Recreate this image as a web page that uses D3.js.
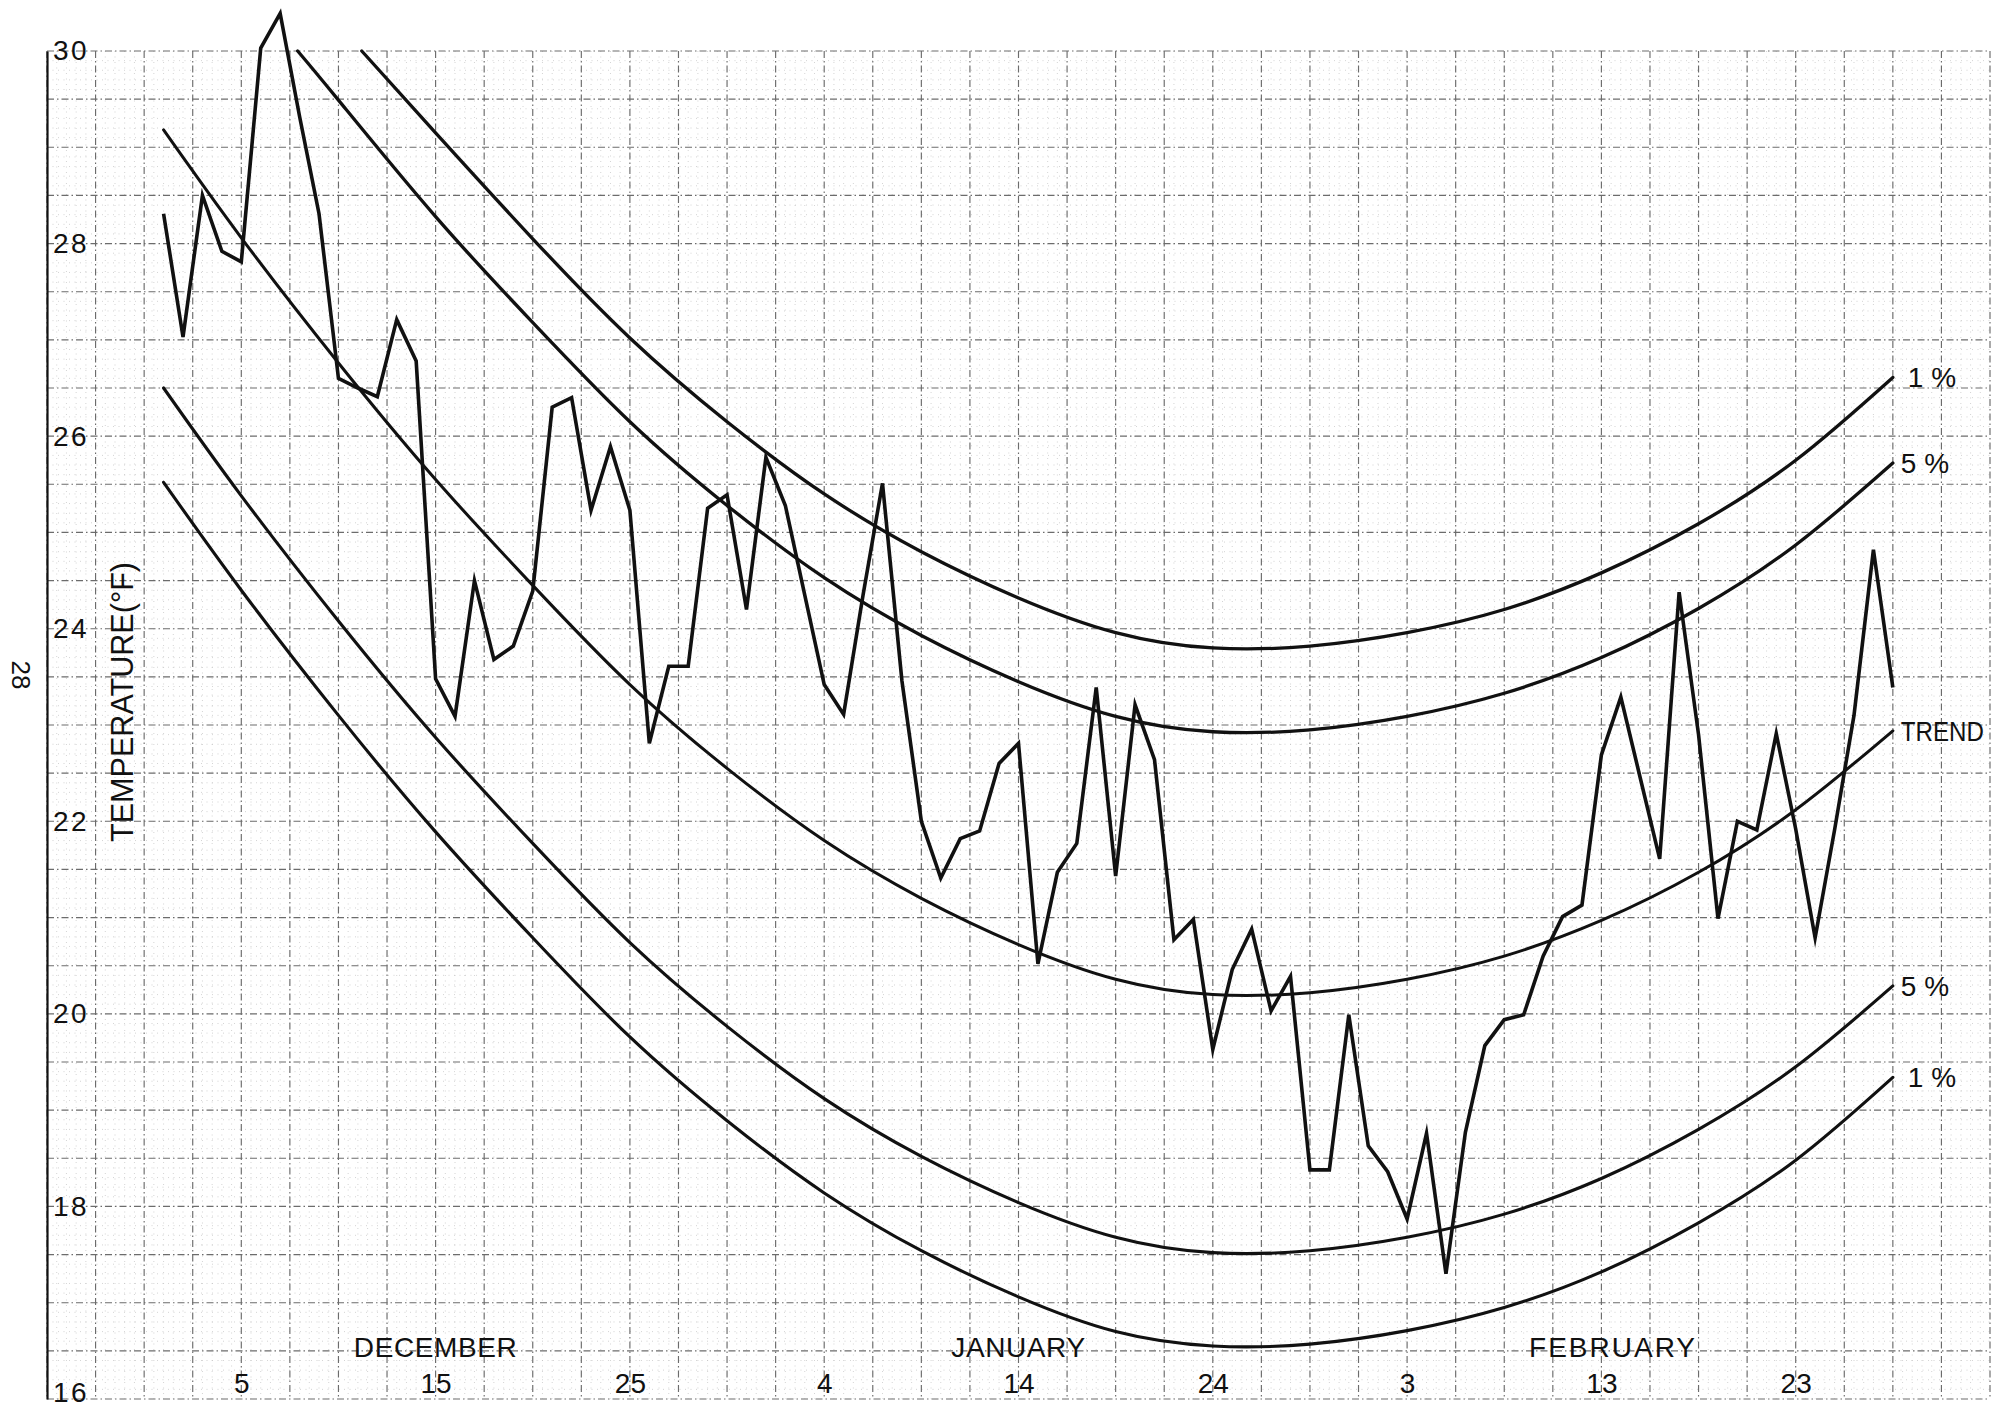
<!DOCTYPE html>
<html>
<head>
<meta charset="utf-8">
<script src="https://cdn.jsdelivr.net/npm/d3@7"></script>
<style>
  html, body { margin: 0; padding: 0; background: #fff; }
  svg { display: block; }
  text { font-family: "Liberation Sans", Arial, sans-serif; fill: #111; }
</style>
</head>
<body>
<svg id="chart" width="2007" height="1412"></svg>
<script>
// Daily mean temperature, 1 December to 28 February (°F)
const dailyTemps = [
  28.31, 27.03, 28.50, 27.92, 27.81, 30.03, 30.39, 29.32, 28.31, 26.60,
  26.50, 26.41, 27.21, 26.78, 23.48, 23.09, 24.50, 23.68, 23.82, 24.39,
  26.30, 26.40, 25.23, 25.89, 25.23, 22.81, 23.61, 23.61, 25.25, 25.39,
  24.20, 25.78, 25.28, 24.35, 23.42, 23.11, 24.35, 25.51, 23.46, 22.00,
  21.41, 21.82, 21.90, 22.60, 22.81, 20.52, 21.47, 21.77, 23.39, 21.43,
  23.21, 22.64, 20.77, 20.98, 19.63, 20.46, 20.88, 20.03, 20.39, 18.38,
  18.38, 19.99, 18.63, 18.36, 17.87, 18.76, 17.30, 18.77, 19.67, 19.94,
  19.99, 20.60, 21.01, 21.13, 22.69, 23.29, 22.45, 21.61, 24.38, 22.90,
  20.99, 22.00, 21.91, 22.91, 21.92, 20.79, 21.91, 23.10, 24.82, 23.39
];
// day numbers counted from 1 December
const dailyDays = dailyTemps.map((_, i) => i + 1);

// Seasonal trend and probability limits, sampled along the season
const curveDays = [1, 5, 10, 15, 20, 25, 30, 35, 40, 45, 50, 55, 60, 65, 70, 75, 80, 85, 90];
const trendTemps = [29.18, 28.06, 26.76, 25.55, 24.45, 23.42, 22.55, 21.80, 21.20, 20.72,
                    20.36, 20.20, 20.22, 20.36, 20.60, 20.97, 21.47, 22.12, 22.94];
const lower5Temps = [26.50, 25.38, 24.08, 22.87, 21.77, 20.74, 19.87, 19.12, 18.52, 18.04,
                     17.68, 17.52, 17.54, 17.68, 17.92, 18.29, 18.80, 19.45, 20.29];
const lower1Temps = [25.52, 24.40, 23.10, 21.89, 20.79, 19.76, 18.89, 18.14, 17.54, 17.06,
                     16.70, 16.55, 16.57, 16.71, 16.95, 17.32, 17.83, 18.48, 19.34];
// upper limits enter the sheet at its top edge
const upper5Days = [7.9, 10, 15, 20, 25, 30, 35, 40, 45, 50, 55, 60, 65, 70, 75, 80, 85, 90];
const upper5Temps = [30.00, 29.49, 28.28, 27.18, 26.15, 25.28, 24.53, 23.93, 23.45, 23.09,
                     22.93, 22.95, 23.09, 23.33, 23.70, 24.21, 24.87, 25.72];
const upper1Days = [11.2, 15, 20, 25, 30, 35, 40, 45, 50, 55, 60, 65, 70, 75, 80, 85, 90];
const upper1Temps = [30.00, 29.15, 28.05, 27.02, 26.15, 25.40, 24.80, 24.32, 23.96, 23.80,
                     23.82, 23.96, 24.20, 24.58, 25.09, 25.75, 26.61];

// Axis labelling
const tempTicks = [16, 18, 20, 22, 24, 26, 28, 30];
const dayTicks = [5, 15, 25, 35, 45, 55, 65, 75, 85];
const dayTickLabels = ["5", "15", "25", "4", "14", "24", "3", "13", "23"];
const monthNames = ["DECEMBER", "JANUARY", "FEBRUARY"];
const monthDays = [15, 45, 75.6];
const yTitle = "TEMPERATURE(°F)";
const pageNumber = "28";

const svg = d3.select("#chart");
const W = 2007, H = 1412;
svg.append("rect").attr("width", W).attr("height", H).attr("fill", "#fff");

const x = d3.scaleLinear().domain([-5, 95]).range([47, 1990]);
const y = d3.scaleLinear().domain([16, 30]).range([1399, 51]);

// ---- graph-paper ruling ----
const grid = svg.append("g");
const majorX = d3.range(-5, 95.001, 2.5);
const minorX = d3.range(-5, 95.001, 0.5).filter(d => Math.abs(d / 2.5 - Math.round(d / 2.5)) > 1e-6);
const majorY = d3.range(16, 30.001, 0.5);
const minorY = d3.range(16, 30.001, 0.1).filter(d => Math.abs(d / 0.5 - Math.round(d / 0.5)) > 1e-6);

const minorStyle = s => s.attr("stroke", "#c2c2c2").attr("stroke-width", 0.7).attr("stroke-dasharray", "1,4.5");
const majorStyle = s => s.attr("stroke", "#6c6c6c").attr("stroke-width", 1.15).attr("stroke-dasharray", "7,3,1.5,3");

grid.selectAll("line.mvx").data(minorX).join("line")
  .attr("class", "mvx")
  .attr("x1", d => x(d)).attr("x2", d => x(d)).attr("y1", y(30)).attr("y2", y(16)).call(minorStyle);
grid.selectAll("line.mhy").data(minorY).join("line")
  .attr("class", "mhy")
  .attr("x1", x(-5)).attr("x2", x(95)).attr("y1", d => y(d)).attr("y2", d => y(d)).call(minorStyle);
grid.selectAll("line.Mvx").data(majorX).join("line")
  .attr("class", "Mvx")
  .attr("x1", d => x(d)).attr("x2", d => x(d)).attr("y1", y(30)).attr("y2", y(16)).call(majorStyle);
grid.selectAll("line.Mhy").data(majorY).join("line")
  .attr("class", "Mhy")
  .attr("x1", x(-5)).attr("x2", x(95)).attr("y1", d => y(d)).attr("y2", d => y(d)).call(majorStyle);

// ---- temperature axis (labels sit inside the sheet) ----
const yAxis = svg.append("g")
  .attr("transform", `translate(${x(-5)},0)`)
  .call(d3.axisRight(y).tickValues(tempTicks).tickSize(0).tickPadding(6).tickFormat(d3.format("d")));
yAxis.select(".domain").attr("stroke", "#111").attr("stroke-width", 2.2);
yAxis.selectAll("text")
  .attr("font-size", 28).attr("letter-spacing", 2.5)
  .attr("font-family", "Liberation Sans, Arial, sans-serif").attr("fill", "#111");
// lowest label kept clear of the sheet's bottom edge
yAxis.selectAll(".tick").filter(d => d === 16).select("text").attr("dy", "0.1em");

svg.append("text")
  .attr("transform", `translate(133,702) rotate(-90)`)
  .attr("text-anchor", "middle")
  .attr("font-size", 32)
  .attr("textLength", 280).attr("lengthAdjust", "spacingAndGlyphs")
  .text(yTitle);

svg.append("text")
  .attr("transform", `translate(12,675) rotate(90)`)
  .attr("text-anchor", "middle")
  .attr("font-size", 26)
  .text(pageNumber);

// ---- day axis ----
const xAxis = svg.append("g")
  .attr("transform", "translate(0,1366)")
  .call(d3.axisBottom(x).tickValues(dayTicks).tickSize(0).tickPadding(7)
    .tickFormat((d, i) => dayTickLabels[i]));
xAxis.select(".domain").remove();
xAxis.selectAll("text")
  .attr("font-size", 28)
  .attr("font-family", "Liberation Sans, Arial, sans-serif").attr("fill", "#111");

svg.selectAll("text.month").data(monthNames).join("text")
  .attr("class", "month")
  .attr("x", (d, i) => x(monthDays[i]))
  .attr("y", 1357)
  .attr("text-anchor", "middle")
  .attr("font-size", 28)
  .attr("letter-spacing", (d, i) => i === 2 ? 2 : 0.6)
  .text(d => d);

// ---- limit curves ----
const smooth = d3.line().x(d => x(d[0])).y(d => y(d[1])).curve(d3.curveNatural);
const curves = [
  { days: upper1Days, temps: upper1Temps, label: "1 %", w: 3.3 },
  { days: upper5Days, temps: upper5Temps, label: "5 %", w: 3.3 },
  { days: curveDays, temps: trendTemps, label: "TREND", w: 3.0 },
  { days: curveDays, temps: lower5Temps, label: "5 %", w: 3.1 },
  { days: curveDays, temps: lower1Temps, label: "1 %", w: 3.1 }
];
const cg = svg.append("g");
curves.forEach(c => {
  const pts = c.days.map((d, i) => [d, c.temps[i]]);
  cg.append("path").attr("d", smooth(pts))
    .attr("fill", "none").attr("stroke", "#111").attr("stroke-width", c.w)
    .attr("stroke-linecap", "round");
  const last = pts[pts.length - 1];
  const t = cg.append("text")
    .attr("x", x(last[0]) + (c.label === "1 %" ? 15 : 8))
    .attr("y", y(last[1]) + 10)
    .attr("font-size", 28)
    .text(c.label);
  if (c.label === "TREND") t.attr("font-size", 27).attr("textLength", 83).attr("lengthAdjust", "spacingAndGlyphs");
});

// ---- daily observations ----
const daily = d3.line().x(d => x(d[0])).y(d => y(d[1]));
svg.append("path")
  .attr("d", daily(dailyDays.map((d, i) => [d, dailyTemps[i]])))
  .attr("fill", "none").attr("stroke", "#111").attr("stroke-width", 3.6)
  .attr("stroke-linejoin", "miter").attr("stroke-miterlimit", 6);
</script>
</body>
</html>
